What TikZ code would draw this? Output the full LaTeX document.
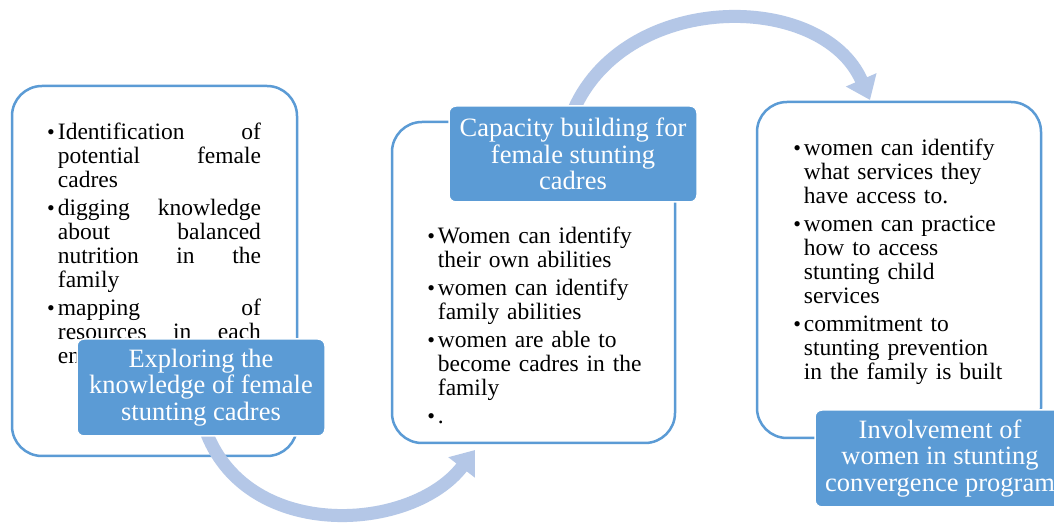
\documentclass[tikz,border=0pt]{standalone}
\usepackage{fontspec}
\setmainfont{Liberation Serif}
\usepackage{enumitem}
\usetikzlibrary{positioning}
\usetikzlibrary{arrows.meta}
\definecolor{smartblue}{RGB}{91,155,213}
\definecolor{paleblue}{RGB}{180,199,231}
\newcommand{\bodyfont}{\fontsize{23.5}{24}\selectfont}
\newcommand{\headfont}{\fontsize{26.5}{26.5}\selectfont}
\setlist[itemize]{leftmargin=12pt, labelsep=3pt, itemsep=4pt, topsep=0pt,
  parsep=0pt, partopsep=0pt, label={\fontsize{22}{22}\selectfont\textbullet}}
\tikzset {
  x=1pt, y=1pt,
  % white card with blue outline
  card/.style = {draw=smartblue, line width=2.5pt, fill=white, rounded corners=30pt},
  % blue heading box
  headbox/.style = {fill=smartblue, draw=white, line width=1.5pt, rounded corners=7pt,
    text=white, align=center, font=\headfont},
  % bullet list inside a card
  points/.style = {text width=230pt, inner sep=0pt, font=\bodyfont},
  % light curved arrow
  flow/.style = {paleblue, line width=13pt, -{Triangle[width=32pt,length=22pt]}},
}
\begin{document}
\begin{tikzpicture}
  \useasboundingbox[fill=white] (0,0) rectangle (1054,524);

  % cards
  \node[card, minimum width=285pt, minimum height=370pt] (c1) at (154.5,253) {};
  \node[card, minimum width=283pt, minimum height=321pt] (c2) at (533.5,241.5) {};
  \node[card, minimum width=284pt, minimum height=336pt] (c3) at (899,254) {};

  % lists
  \node[points, text width=215pt, align=justify, below right=31pt and 35pt of c1.north west] (l1) {%
    \hyphenpenalty=10000
    \begin{itemize}
      \item Identification of\linebreak potential female\linebreak cadres
      \item digging knowledge\linebreak about balanced\linebreak nutrition in the\linebreak family
      \item mapping of\linebreak resources in each\linebreak environment
    \end{itemize}};
  \node[points, align=left, below right=99pt and 35pt of c2.north west] (l2) {%
    \begin{itemize}
      \item Women can identify\newline their own abilities
      \item women can identify\newline family abilities
      \item women are able to\newline become cadres in the\newline family
      \item .
    \end{itemize}};
  \node[points, align=left, below right=31pt and 36pt of c3.north west] (l3) {%
    \begin{itemize}
      \item women can identify\newline what services they\newline have access to.
      \item women can practice\newline how to access\newline stunting child\newline services
      \item commitment to\newline stunting prevention\newline in the family is built
    \end{itemize}};

  % arrows
  \coordinate (s1) at (207,90);
  \coordinate (e1) at (475,74);
  \coordinate (s2) at (572,410);
  \coordinate (e2) at (870,424);
  \draw[flow] (s1) .. controls (250,-18) and (412,-8) .. (e1);
  \draw[flow] (s2) .. controls (622,534) and (822,534) .. (e2);

  % headings
  \node[headbox, minimum width=248pt, minimum height=97pt] (h1) at (201,136.5)
    {Exploring the\\knowledge of female\\stunting cadres};
  \node[headbox, minimum width=248pt, minimum height=96pt] (h2) at (573,370)
    {Capacity building for\\female stunting\\cadres};
  \node[headbox, minimum width=250pt, minimum height=97pt] (h3) at (940,65.5)
    {Involvement of\\women in stunting\\convergence program};
\end{tikzpicture}
\end{document}
